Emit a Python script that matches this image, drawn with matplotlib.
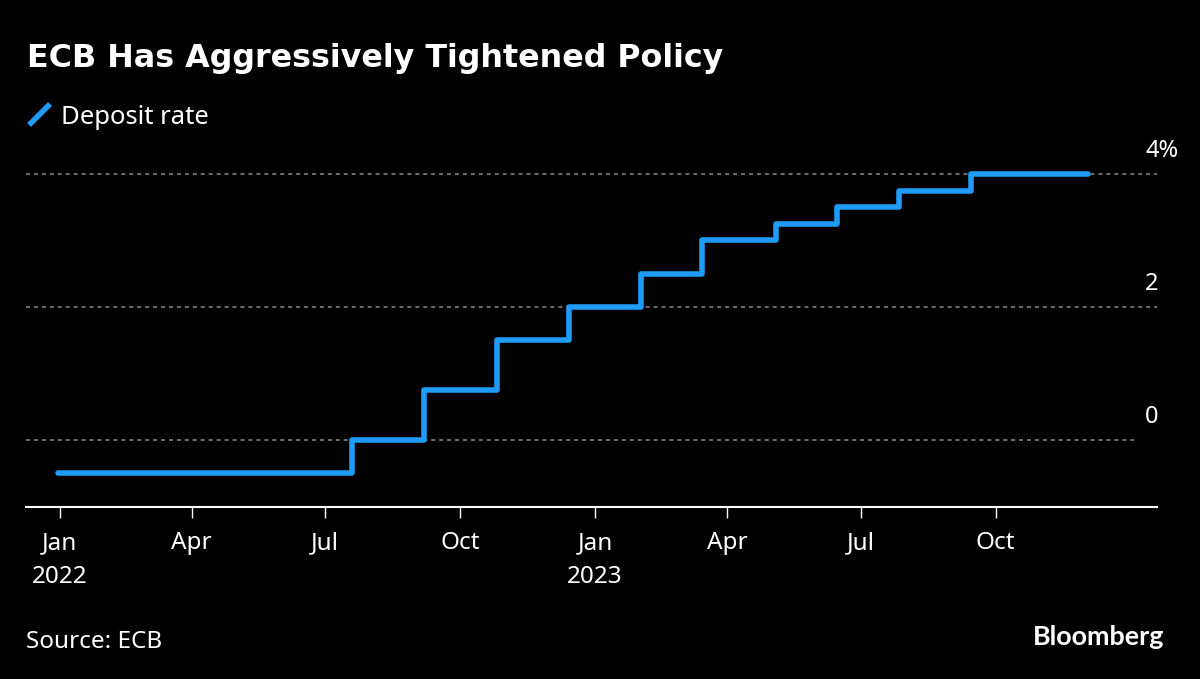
import matplotlib
matplotlib.use("Agg")
import matplotlib.pyplot as plt
import matplotlib.dates as mdates
from matplotlib.lines import Line2D
from datetime import date

# ECB deposit rate, value holds from each date until the next one
dates = [date(2021, 12, 31), date(2022, 7, 19), date(2022, 9, 6), date(2022, 10, 26),
         date(2022, 12, 14), date(2023, 2, 1), date(2023, 3, 15), date(2023, 5, 4),
         date(2023, 6, 15), date(2023, 7, 27), date(2023, 9, 14), date(2023, 12, 3)]
rate = [-0.5, 0, 0.75, 1.5, 2, 2.5, 3, 3.25, 3.5, 3.75, 4, 4]

tick_dates = [date(2022, 1, 1), date(2022, 4, 1), date(2022, 7, 1), date(2022, 10, 1),
              date(2023, 1, 1), date(2023, 4, 1), date(2023, 7, 1), date(2023, 10, 1)]
tick_labels = ["Jan\n2022", "Apr", "Jul", "Oct", "Jan\n2023", "Apr", "Jul", "Oct"]
y_values = [4, 2, 0]
y_labels = ["4%", "2", "0"]

W, H = 1200, 679
BLUE = "#1e9cf7"
FONT = "Noto Sans"

fig = plt.figure(figsize=(W / 100, H / 100), dpi=100, facecolor="black")
# axes box in pixels: x 26-1157, y 154-507
ax = fig.add_axes([26 / W, 1 - 507 / H, (1157 - 26) / W, (507 - 154) / H], facecolor="black")

ax.set_xlim(date(2021, 12, 9), date(2024, 1, 19))
ax.set_ylim(-1.008, 4.3)

# dotted grid lines, the zero one stops short of the right edge
for v in y_values:
    xmax = 0.981 if v == 0 else 1
    ax.axhline(v, xmin=0, xmax=xmax, color="#8c8c8c", lw=1.1, ls=(0, (2.6, 2.6)), zorder=1)
for v, lab in zip(y_values, y_labels):
    ax.annotate(lab, xy=(1, v), xycoords=("axes fraction", "data"), xytext=(-12, 23),
                textcoords="offset pixels", color="white", fontsize=17, family=FONT,
                ha="left", va="center")

ax.step(dates, rate, where="post", color=BLUE, lw=4, solid_joinstyle="round",
        solid_capstyle="round", zorder=3)

for s in ["top", "left", "right"]:
    ax.spines[s].set_visible(False)
ax.spines["bottom"].set_color("white")
ax.spines["bottom"].set_linewidth(1.5)

ax.set_yticks([])
ax.set_xticks(tick_dates)
ax.set_xticklabels(tick_labels, color="white", fontsize=17.5, family=FONT, linespacing=1.52)
ax.xaxis.set_major_locator(plt.FixedLocator([mdates.date2num(d) for d in tick_dates]))
ax.tick_params(axis="x", length=8, width=1, color="white", pad=9.5)

fig.text(27 / W, 1 - 59 / H, "ECB Has Aggressively Tightened Policy", color="white",
         fontsize=22.9, fontweight="bold", family="DejaVu Sans", va="center", ha="left")
fig.add_artist(Line2D([29 / W, 50 / W], [1 - 125 / H, 1 - 104 / H], color=BLUE, lw=4,
                      solid_capstyle="butt"))
fig.text(61 / W, 1 - 117 / H, "Deposit rate", color="white", fontsize=18.5, family=FONT,
         va="center", ha="left")
fig.text(26 / W, 1 - 642 / H, "Source: ECB", color="white", fontsize=17.5, family=FONT,
         va="center", ha="left")
fig.text(1164 / W, 1 - 637 / H, "Bloomberg", color="white", fontsize=19.4, fontweight="bold",
         family="Lato", va="center", ha="right")

fig.savefig("out.png", dpi=100, facecolor="black")
